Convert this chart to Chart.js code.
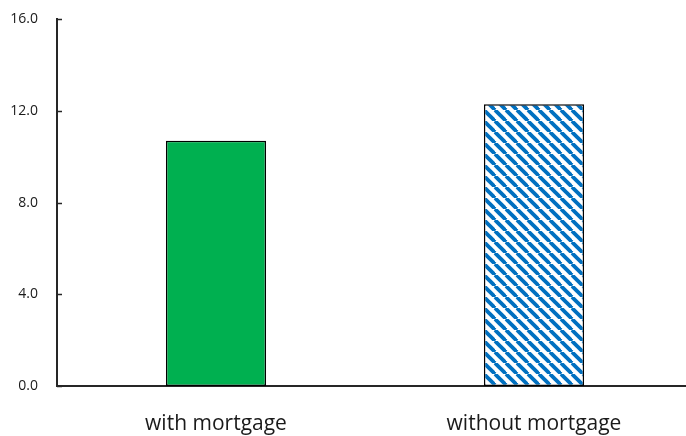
<!DOCTYPE html>
<html>
<head>
<meta charset="utf-8">
<script src="https://cdn.jsdelivr.net/npm/chart.js@4"></script>
<style>
  html, body { margin: 0; padding: 0; background: #fff; overflow: hidden; }
  #wrap { width: 700px; height: 436px; }
</style>
</head>
<body>
<div id="wrap"><canvas id="chart"></canvas></div>
<script>
const categories = ["with mortgage", "without mortgage"];
const values = [10.7, 12.3];
const yTicks = [0, 4, 8, 12, 16];

// diagonal blue stripes for the second bar
const makeHatch = () => {
  const size = 11;
  const c = document.createElement("canvas");
  c.width = size;
  c.height = size;
  const ctx = c.getContext("2d");
  ctx.fillStyle = "#fff";
  ctx.fillRect(0, 0, size, size);
  ctx.strokeStyle = "#0070c0";
  ctx.lineWidth = 3.8;
  for (const off of [-size, 0, size]) {
    ctx.beginPath();
    ctx.moveTo(off, 0);
    ctx.lineTo(off + size, size);
    ctx.stroke();
  }
  return ctx.createPattern(c, "repeat");
};

// short tick marks pointing into the plot area
const innerTicks = {
  id: "innerTicks",
  afterDraw(chart) {
    const { ctx, scales: { y }, chartArea } = chart;
    ctx.save();
    ctx.strokeStyle = "#262626";
    ctx.lineWidth = 1.5;
    yTicks.forEach((v) => {
      const py = Math.round(y.getPixelForValue(v)) + 0.5;
      ctx.beginPath();
      ctx.moveTo(chartArea.left, py);
      ctx.lineTo(chartArea.left + 5, py);
      ctx.stroke();
    });
    ctx.restore();
  },
};

new Chart(document.getElementById("chart"), {
  type: "bar",
  data: {
    labels: categories,
    datasets: [{
      data: values,
      backgroundColor: ["#00b050", makeHatch()],
      borderColor: "#000",
      borderWidth: 1.5,
      borderSkipped: false,
      barPercentage: 0.315,
      categoryPercentage: 1,
    }],
  },
  options: {
    responsive: true,
    maintainAspectRatio: false,
    animation: false,
    layout: { padding: { top: 10, right: 7, left: 0, bottom: 0 } },
    plugins: { legend: { display: false }, tooltip: { enabled: false } },
    scales: {
      x: {
        grid: { display: false },
        border: { display: true, color: "#262626", width: 2 },
        ticks: { color: "#1a1a1a", font: { family: "Open Sans", size: 21 }, padding: 17, maxRotation: 0 },
        afterFit: (s) => { s.height = 50; },
      },
      y: {
        min: 0,
        max: 16,
        afterBuildTicks: (s) => { s.ticks = yTicks.map((v) => ({ value: v })); },
        grid: { display: false },
        border: { display: true, color: "#262626", width: 2 },
        ticks: {
          color: "#1a1a1a",
          font: { family: "Open Sans", size: 14 },
          padding: 11,
          callback: (v) => Number(v).toFixed(1),
        },
        afterFit: (s) => { s.width = 57; },
      },
    },
  },
  plugins: [innerTicks],
});
</script>
</body>
</html>
